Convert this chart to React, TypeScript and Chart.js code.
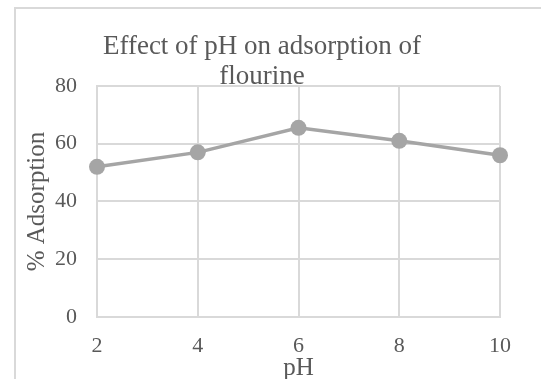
import React, { useEffect, useRef } from "react";
import { Chart, registerables } from "chart.js";

Chart.register(...registerables);

// pH values tested and the measured fluoride adsorption (%)
const phLabels: string[] = ["2", "4", "6", "8", "10"];
const adsorption: number[] = [52, 57, 65.5, 61, 56];
const yMin = 0;
const yMax = 80;
const yStep = 20;

const titleLines: string[] = ["Effect of pH on adsorption of", "flourine"];
const xTitle = "pH";
const yTitle = "% Adsorption";

const TEXT = "#595959";
const GRID = "#d9d9d9";
const SERIES = "#a5a5a5";
const FONT = "'Liberation Serif', 'Times New Roman', serif";

export default function App() {
  const canvasRef = useRef<HTMLCanvasElement | null>(null);

  useEffect(() => {
    const canvas = canvasRef.current;
    if (!canvas) return;
    const chart = new Chart(canvas, {
      type: "line",
      data: {
        labels: phLabels,
        datasets: [
          {
            data: adsorption,
            borderColor: SERIES,
            backgroundColor: SERIES,
            borderWidth: 3.5,
            pointRadius: 8,
            pointBorderWidth: 0,
            pointBackgroundColor: SERIES,
            tension: 0,
          },
        ],
      },
      options: {
        responsive: false,
        animation: false,
        devicePixelRatio: 1,
        layout: { padding: { left: 8, top: 0, right: 116, bottom: 0 } },
        plugins: {
          legend: { display: false },
          tooltip: { enabled: false },
          title: {
            display: true,
            text: titleLines,
            color: TEXT,
            font: { family: FONT, size: 27, weight: "normal", lineHeight: 1.11 },
            padding: { top: 23, bottom: -6 },
          },
        },
        scales: {
          x: {
            type: "category",
            offset: false,
            grid: { color: GRID, lineWidth: 2, drawTicks: false },
            border: { color: GRID, width: 2 },
            ticks: {
              color: TEXT,
              padding: 16,
              font: { family: FONT, size: 22 },
              maxRotation: 0,
            },
            title: {
              display: true,
              text: xTitle,
              color: TEXT,
              font: { family: FONT, size: 25 },
              padding: { top: 0, bottom: 26 },
            },
            afterFit: (scale: any) => {
              scale.height = 92;
            },
          },
          y: {
            min: yMin,
            max: yMax,
            grid: { color: GRID, lineWidth: 2, drawTicks: false },
            border: { color: GRID, width: 2 },
            ticks: {
              stepSize: yStep,
              color: TEXT,
              padding: 20,
              font: { family: FONT, size: 22 },
            },
            title: {
              display: true,
              text: yTitle,
              color: TEXT,
              font: { family: FONT, size: 25 },
              padding: { top: -2, bottom: 0 },
            },
            afterFit: (scale: any) => {
              scale.width = 73;
            },
          },
        },
      },
    });
    return () => chart.destroy();
  }, []);

  return (
    <div
      style={{
        position: "fixed",
        inset: 0,
        overflow: "hidden",
        background: "#ffffff",
      }}
    >
      <div
        style={{
          position: "absolute",
          left: 14,
          top: 7,
          width: 700,
          height: 500,
          border: `2px solid ${GRID}`,
          boxSizing: "border-box",
        }}
      />
      <canvas
        ref={canvasRef}
        width={600}
        height={400}
        style={{ position: "absolute", left: 16, top: 9, display: "block" }}
      />
    </div>
  );
}
